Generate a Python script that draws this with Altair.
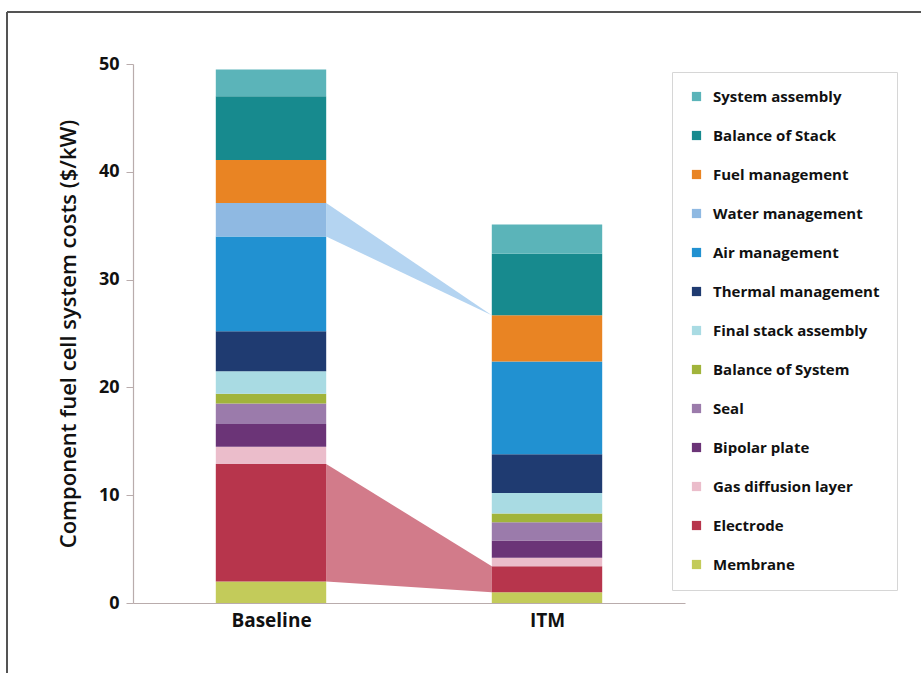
import altair as alt
import pandas as pd

# Cost components, bottom of the stack first
components = [
    "Membrane", "Electrode", "Gas diffusion layer", "Bipolar plate", "Seal",
    "Balance of System", "Final stack assembly", "Thermal management",
    "Air management", "Water management", "Fuel management",
    "Balance of Stack", "System assembly",
]
colors = [
    "#c3cb5a", "#b7354c", "#ebbdcb", "#6b3477", "#9b7bab",
    "#a1b43b", "#a9dbe3", "#1f3b71", "#2191d1", "#8fb9e2", "#e98423",
    "#178a8e", "#5bb4b9",
]
cases = ["Baseline", "ITM"]
baseline_cost = [2.0, 10.9, 1.6, 2.1, 1.9, 0.9, 2.1, 3.7, 8.8, 3.1, 4.0, 5.9, 2.5]
itm_cost = [1.0, 2.4, 0.8, 1.6, 1.7, 0.8, 1.9, 3.6, 8.6, 0.0, 4.3, 5.7, 2.7]

BAR_HALF = 0.2
FONT = "Open Sans"
AXIS_GREY = "#b9acac"

# Stacked segments with explicit bottoms/tops
rows = []
tops = {}
for pos, (case, costs) in enumerate(zip(cases, [baseline_cost, itm_cost]), start=1):
    acc = 0.0
    for comp, val in zip(components, costs):
        rows.append(dict(case=case, pos=pos, x0=pos - BAR_HALF, x1=pos + BAR_HALF,
                         component=comp, y0=acc, y1=acc + val))
        tops[(case, comp)] = (acc, acc + val)
        acc += val
segments = pd.DataFrame([r for r in rows if r["y1"] > r["y0"]])


def connector(comp, itm_low, itm_high):
    b_low, b_high = tops[("Baseline", comp)]
    return pd.DataFrame({
        "x0": [1 + BAR_HALF, 2 - BAR_HALF],
        "y0": [b_low, itm_low],
        "y1": [b_high, itm_high],
    })


# Connectors highlighting the two largest reductions
elec_lo, elec_hi = tops[("ITM", "Electrode")]
water_tip = tops[("ITM", "Fuel management")][1]
electrode_band = connector("Electrode", elec_lo, elec_hi)
water_band = connector("Water management", water_tip, water_tip)

x_scale = alt.Scale(domain=[0.5, 2.5], nice=False, zero=False)
y_scale = alt.Scale(domain=[0, 50], nice=False)

label_expr = " : ".join(
    [f"datum.value == {i + 1} ? '{c}'" for i, c in enumerate(cases)] + ["''"]
)

x_axis = alt.Axis(values=[1, 2], labelExpr=label_expr, title=None,
                  ticks=False, grid=False, domainColor=AXIS_GREY,
                  domainWidth=1.2, labelFont=FONT, labelFontSize=19,
                  labelFontWeight="bold", labelColor="#111", labelPadding=8)
y_axis = alt.Axis(values=[0, 10, 20, 30, 40, 50],
                  title="Component fuel cell system costs ($/kW)",
                  titleFont=FONT, titleFontSize=22, titleFontWeight=600,
                  titleColor="#111", titlePadding=18,
                  labelFont=FONT, labelFontSize=18, labelFontWeight="bold",
                  labelColor="#111", labelPadding=7,
                  tickSize=7, tickColor=AXIS_GREY, domainColor=AXIS_GREY,
                  domainWidth=1.2, grid=False)

X = alt.X("x0:Q", scale=x_scale, axis=x_axis)
Y = alt.Y("y0:Q", scale=y_scale, axis=y_axis)

band_e = alt.Chart(electrode_band).mark_area(color="#d27b8a").encode(
    x=X, y=Y, y2="y1:Q"
)
band_w = alt.Chart(water_band).mark_area(color="#b4d4f1").encode(
    x=X, y=Y, y2="y1:Q"
)

legend_order = list(reversed(components))
legend_colors = list(reversed(colors))

bars = alt.Chart(segments).mark_rect().encode(
    x=X,
    x2="x1:Q",
    y=Y,
    y2="y1:Q",
    color=alt.Color("component:N",
                    scale=alt.Scale(domain=legend_order, range=legend_colors),
                    sort=legend_order,
                    legend=alt.Legend(title=None, orient="none", legendX=539,
                                      legendY=8, padding=17,
                                      strokeColor="#d6d6d6", symbolType="square",
                                      symbolSize=85, symbolStrokeWidth=0,
                                      labelFont=FONT, labelFontSize=15,
                                      labelFontWeight="bold", labelColor="#111",
                                      labelOffset=9, rowPadding=23,
                                      labelLimit=300)),
)

# Frame along the top and left of the figure
frame_top = alt.Chart(segments).mark_rule(color="#555", strokeWidth=1.5).encode(
    x=alt.value(-126), x2=alt.value(800), y=alt.value(-52)
)
frame_left = alt.Chart(segments).mark_rule(color="#555", strokeWidth=1.5).encode(
    x=alt.value(-126), y=alt.value(-52), y2=alt.value(620)
)

chart = alt.layer(band_e, band_w, bars, frame_top, frame_left).properties(
    width=552, height=539,
    autosize=alt.AutoSizeParams(type="none"),
    padding={"left": 133, "top": 64, "right": 236, "bottom": 70},
    background="white",
).configure_view(stroke=None)

chart.save("out.html", embed_options={"renderer": "svg", "actions": False})
